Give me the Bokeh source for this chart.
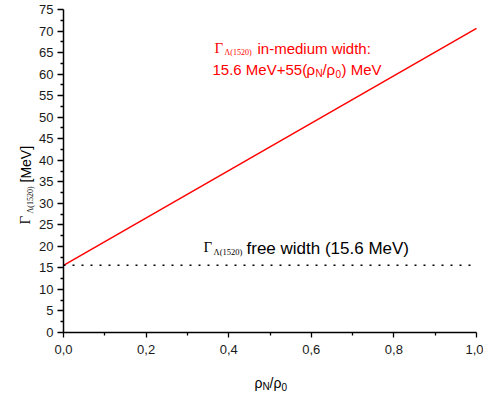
import math
from bokeh.plotting import figure
from bokeh.models import FixedTicker, Label, Range1d, CustomJSTickFormatter, LinearAxis
from bokeh.embed import file_html
from bokeh.resources import INLINE

# ---- data ----
rho = [0.0, 1.0]
gamma_medium = [15.6, 70.6]
gamma_free = [15.6, 15.6]
x_major = [0.0, 0.2, 0.4, 0.6, 0.8, 1.0]
x_minor = [0.1, 0.3, 0.5, 0.7, 0.9]
y_major = [0, 5, 10, 15, 20, 25, 30, 35, 40, 45, 50, 55, 60, 65, 70, 75]
y_minor = [2.5, 7.5, 12.5, 17.5, 22.5, 27.5, 32.5, 37.5, 42.5, 47.5, 52.5, 57.5, 62.5, 67.5, 72.5]

# ---- layout (page pixels) ----
CX, CY = 0, 0          # canvas origin on the page (Bokeh page has no body margin)
W, H = 483, 396
FL, FT, FR, FB = 63, 9, 476, 332   # where x=0 / y=75 / x=1 / y=0 fall
XS = (FR - FL) / 1.0
YS = (FB - FT) / 75.0
x_rng = Range1d((CX - FL) / XS, (CX + W - FL) / XS)
y_rng = Range1d((FB - (CY + H)) / YS, (FB - CY) / YS)

p = figure(width=W, height=H, x_range=x_rng, y_range=y_rng,
           output_backend="svg", toolbar_location=None,
           x_axis_location=None, y_axis_location=None,
           min_border=0, min_border_left=0, min_border_right=0,
           min_border_top=0, min_border_bottom=0)
p.grid.visible = False
p.outline_line_color = None
p.background_fill_color = "white"
p.border_fill_color = "white"

p.line(rho, gamma_medium, line_color="#ff0000", line_width=1.5)
p.line(rho, gamma_free, line_color="black", line_width=1.6, line_dash="2 7")

xax = LinearAxis(fixed_location=0, bounds=(0, 1),
                 ticker=FixedTicker(ticks=x_major, minor_ticks=x_minor),
                 formatter=CustomJSTickFormatter(code="return tick.toFixed(1).replace('.', ',');"))
yax = LinearAxis(fixed_location=0, bounds=(0, 75),
                 ticker=FixedTicker(ticks=y_major, minor_ticks=y_minor))
for ax in (xax, yax):
    ax.axis_line_color = "black"
    ax.axis_line_width = 1.5
    ax.major_tick_line_color = "black"
    ax.minor_tick_line_color = "black"
    ax.major_tick_line_width = 1.3
    ax.minor_tick_line_width = 1.3
    ax.major_tick_in = 0
    ax.minor_tick_in = 0
    ax.minor_tick_out = 3
    ax.major_label_text_font = "Liberation Sans"
    ax.major_label_text_font_size = "13px"
    ax.major_label_text_color = "#1a1a1a"
xax.major_tick_out = 5
xax.major_label_standoff = 7
yax.major_tick_out = 6
yax.major_label_standoff = 4
p.add_layout(xax, "below")
p.add_layout(yax, "left")


def lab(text, px, py, size, font="Liberation Sans", color="black", angle=0.0):
    p.add_layout(Label(x=(px - FL) / XS, y=(FB - py) / YS, text=text,
                       text_font=font, text_font_size=f"{size}px", text_color=color,
                       angle=angle, text_align="left", text_baseline="alphabetic"))


SERIF = "Liberation Serif"
RED = "#ff0000"
# in-medium annotation
lab("\u0393", 214, 47, 15, SERIF, RED)
lab("\u039b(1520)", 224, 52, 8, SERIF, RED)
lab("in-medium width:", 257, 48, 15, color=RED)
lab("15.6 MeV+55(", 212, 69, 15, color=RED)
lab("\u03c1", 306, 69, 15, color=RED)
lab("N", 315, 73, 10, color=RED)
lab("/", 322, 69, 15, color=RED)
lab("\u03c1", 326, 69, 15, color=RED)
lab("0", 335, 73, 10, color=RED)
lab(") MeV", 341, 69, 15, color=RED)

# free width annotation
lab("\u0393", 203, 246, 15, SERIF)
lab("\u039b(1520)", 213, 251, 8.5, SERIF)
lab("free width (15.6 MeV)", 246, 248, 17)

# x-axis title
lab("\u03c1", 254, 382, 14)
lab("N", 262, 386, 10)
lab("/", 269, 382, 14)
lab("\u03c1", 273, 382, 14)
lab("0", 281, 386, 10)

# y-axis title (rotated)
A = math.pi / 2
lab("\u0393", 24, 224, 15, SERIF, angle=A)
lab("\u039b(1520)", 30, 213, 8, SERIF, angle=A)
lab("[MeV]", 25, 182, 14, angle=A)

open("out.html", "w").write(file_html(p, INLINE))
